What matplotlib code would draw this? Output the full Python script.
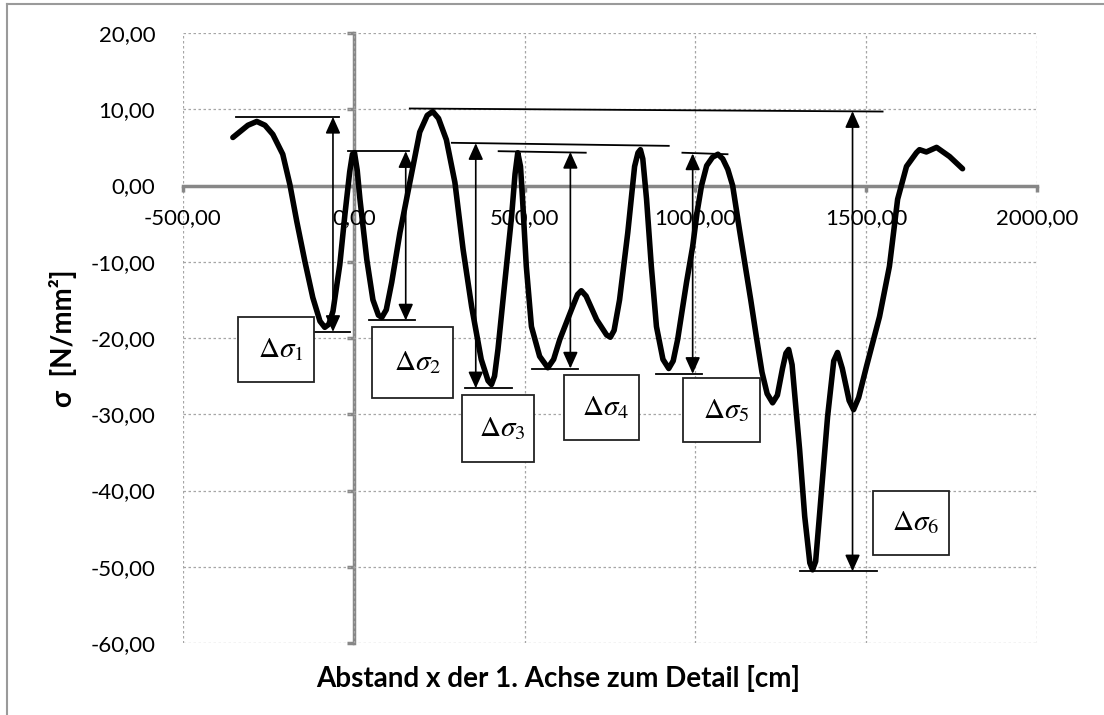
import matplotlib
matplotlib.use('Agg')
import matplotlib.pyplot as plt
from matplotlib.patches import Rectangle
from matplotlib.lines import Line2D
from matplotlib.ticker import FuncFormatter

plt.rcParams['font.family'] = ['Lato', 'DejaVu Sans']
plt.rcParams['mathtext.fontset'] = 'stix'

# stress curve
x_cm = [-354, -310, -284, -260, -237, -208, -187, -167, -143, -120, -99, -85, -73, -61, -41,
        -26, -12, -4, 2, 10, 18, 38, 56, 72, 82, 95, 111, 135, 164, 193, 215, 231, 248, 271,
        296, 320, 345, 373, 393, 403, 412, 422, 442, 462, 472, 480, 488, 494, 505, 520, 544,
        568, 585, 603, 637, 655, 666, 680, 711, 740, 751, 762, 778, 802, 822, 832, 839,
        846, 857, 871, 886, 905, 922, 935, 948, 974, 992, 1005, 1018, 1033, 1050, 1066,
        1080, 1095, 1109, 1129, 1144, 1162, 1179, 1195, 1210, 1226, 1240, 1255, 1265, 1273,
        1283, 1305, 1320, 1335, 1343, 1352, 1363, 1387, 1405, 1416, 1430, 1450, 1463, 1478,
        1501, 1539, 1568, 1592, 1618, 1647, 1656, 1676, 1706, 1744, 1782]
sigma = [6.3, 7.9, 8.4, 7.9, 6.7, 4.1, 0.1, -4.7, -10.0, -14.7, -17.8, -18.6, -18.2, -16.5,
         -10.4, -3.8, 1.8, 4.1, 4.3, 2.0, -1.8, -9.7, -15.0, -17.0, -17.3, -16.3, -12.7,
         -6.2, 0.4, 7.0, 9.2, 9.7, 8.8, 6.0, 0.4, -8.4, -15.9, -22.8, -25.6, -26.1, -25.0,
         -21.5, -12.7, -4.0, 1.5, 4.3, 2.5, -1.8, -10.6, -18.5, -22.4, -23.9, -22.8, -20.2,
         -16.3, -14.3, -13.8, -14.5, -17.6, -19.6, -19.9, -19.0, -15.0, -6.2, 2.5, 4.3, 4.7,
         3.5, -1.8, -10.6, -18.5, -22.8, -24.0, -23.0, -20.2, -12.7, -8.0, -3.5, 0.0, 2.6,
         3.7, 4.1, 3.5, 2.1, 0.0, -5.8, -10.0, -15.0, -20.0, -24.5, -27.3, -28.5, -27.5,
         -24.0, -22.0, -21.5, -23.5, -34.6, -43.4, -49.5, -50.4, -49.3, -43.4, -30.3, -23.0,
         -21.9, -24.0, -28.2, -29.4, -27.8, -23.7, -17.2, -10.6, -1.8, 2.5, 4.3, 4.7, 4.4,
         5.0, 3.8, 2.2]

y_ticks = [-60, -50, -40, -30, -20, -10, 0, 10, 20]
x_ticks = [-500, 0, 500, 1000, 1500, 2000]

# range annotations: top line, bottom line, arrow x, box
top_lines = [((-345, 9.0), (-44, 9.0)), ((-18, 4.5), (161, 4.5)), ((287, 5.6), (922, 5.2)),
             ((424, 4.5), (679, 4.3)), ((962, 4.3), (1094, 4.1)), ((164, 10.1), (1548, 9.7))]
bottom_lines = [((-149, -19.2), (-12, -19.2)), ((44, -17.7), (178, -17.7)),
                ((325, -26.6), (462, -26.6)), ((521, -24.0), (655, -24.0)),
                ((886, -24.7), (1018, -24.7)), ((1305, -50.6), (1533, -50.6))]
arrow_x = [-61, 152, 357, 634, 992, 1460]
arrow_top = [9.0, 4.5, 5.55, 4.4, 4.2, 9.75]
arrow_bot = [-19.2, -17.7, -26.6, -24.0, -24.7, -50.6]
boxes = [(-339, -25.8, 222, 8.5), (53, -27.9, 237, 9.3), (316, -36.2, 211, 8.7),
         (614, -33.4, 220, 8.6), (965, -33.7, 223, 8.5), (1521, -48.5, 220, 8.5)]
labels = [r'$\Delta\sigma_1$', r'$\Delta\sigma_2$', r'$\Delta\sigma_3$',
          r'$\Delta\sigma_4$', r'$\Delta\sigma_5$', r'$\Delta\sigma_6$']

grey = '#878787'
fmt = FuncFormatter(lambda v, p: f'{v:.2f}'.replace('.', ','))

fig = plt.figure(figsize=(11.04, 7.15), dpi=100)
ax = fig.add_axes([183/1104, 1 - 643/715, (1037-183)/1104, (643-33)/715])

ax.plot(x_cm, sigma, color='black', lw=4, solid_joinstyle='round', solid_capstyle='round', zorder=4)

ax.set_xlim(-500, 2000)
ax.set_ylim(-60, 20)
ax.set_xticks(x_ticks)
ax.set_yticks(y_ticks)
ax.xaxis.set_major_formatter(fmt)
ax.yaxis.set_major_formatter(fmt)
ax.grid(True, ls=(0, (2, 2)), color='#a6a6a6', lw=0.9)
ax.set_axisbelow(True)

for s in ['top', 'right', 'left']:
    ax.spines[s].set_visible(False)
ax.spines['bottom'].set_position(('data', 0))
ax.spines['bottom'].set_color(grey)
ax.spines['bottom'].set_linewidth(2.5)
ax.tick_params(axis='x', direction='out', length=4, width=2.5, color=grey, labelsize=16, pad=12)
ax.tick_params(axis='y', length=0, labelsize=16, pad=20)

sec = ax.secondary_yaxis(0.2)
sec.set_yticks(y_ticks)
sec.spines['left'].set_color(grey)
sec.spines['left'].set_linewidth(2.5)
sec.tick_params(axis='y', direction='out', length=5, width=2.5, color=grey, labelleft=False)

for (p0, p1) in top_lines + bottom_lines:
    ax.plot([p0[0], p1[0]], [p0[1], p1[1]], color='black', lw=1.3, zorder=5)
for xa, yt, yb in zip(arrow_x, arrow_top, arrow_bot):
    ax.annotate('', xy=(xa, yb), xytext=(xa, yt),
                arrowprops=dict(arrowstyle='<|-|>,head_length=1.0,head_width=0.45',
                                mutation_scale=10, color='black', lw=1.2,
                                shrinkA=0, shrinkB=0), zorder=5)
for (bx, by, bw, bh), lab in zip(boxes, labels):
    ax.add_patch(Rectangle((bx, by), bw, bh, facecolor='white', edgecolor='#222222', lw=1.3, zorder=6))
    ax.text(bx + bw * 0.56, by + bh * 0.5, lab, ha='center', va='center', fontsize=21, zorder=7)

fig.text(558/1104, 1 - 679/715, 'Abstand x der 1. Achse zum Detail [cm]',
         ha='center', va='center', fontsize=20, fontweight='bold')
fig.text(63/1104, 1 - 338/715, 'σ  [N/mm²]', ha='center', va='center', rotation=90,
         fontsize=20, fontweight='bold')

fig.add_artist(Line2D([7/1104, 7/1104], [0, 1 - 4/715], color='#9a9a9a', lw=1.5))
fig.add_artist(Line2D([7/1104, 1], [1 - 4/715, 1 - 4/715], color='#9a9a9a', lw=1.5))

fig.savefig('out.png', dpi=100)
